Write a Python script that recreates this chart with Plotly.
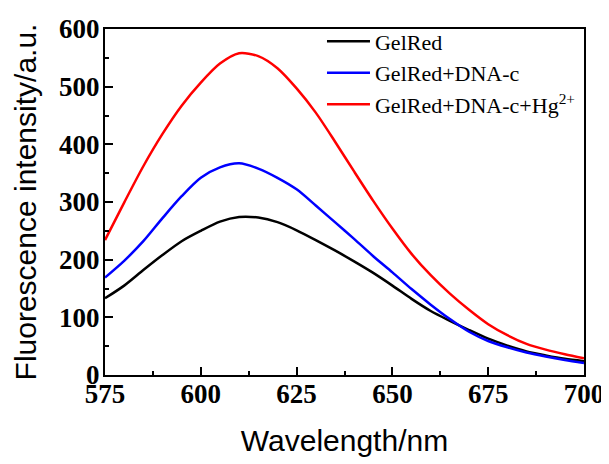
"""
Fluorescence emission spectra of GelRed, GelRed+DNA-c and GelRed+DNA-c+Hg2+.
"""

import plotly.graph_objects as go

# wavelength grid (nm)
wavelength = [575, 580, 585, 590, 595, 600, 605, 610, 615, 620, 625, 630, 635,
              640, 645, 650, 655, 660, 665, 670, 675, 680, 685, 690, 695, 700]

# intensities (a.u.)
gelred = [133, 155, 182, 208, 232, 250, 266, 274, 273, 265, 251, 234, 216,
          197, 177, 155, 132, 111, 94, 78, 63, 51, 41, 34, 28, 24]
gelred_dna = [169, 198, 232, 272, 310, 342, 360, 367, 358, 342, 322, 294, 265,
              236, 206, 178, 149, 122, 97, 75, 59, 48, 39, 32, 26, 21]
gelred_dna_hg = [234, 299, 362, 418, 467, 507, 540, 558, 553, 532, 497, 455, 405,
                 353, 302, 254, 210, 173, 141, 113, 88, 69, 54, 44, 36, 29]

series = [
    ('GelRed', gelred, '#000000'),
    ('GelRed+DNA-c', gelred_dna, '#0000FF'),
    ('GelRed+DNA-c+Hg<sup>2+</sup>', gelred_dna_hg, '#FF0000'),
]

x_ticks = [575, 600, 625, 650, 675, 700]
y_ticks = [0, 100, 200, 300, 400, 500, 600]

fig = go.Figure()

for name, values, color in series:
    fig.add_trace(go.Scatter(
        x=wavelength,
        y=values,
        mode='lines',
        name=name,
        line=dict(color=color, width=2.5, shape='spline', smoothing=0.8),
    ))

tick_font = dict(family='Liberation Serif', size=27, color='black')
title_font = dict(family='Liberation Sans', size=30, color='black')

# page body adds an 8px margin, so the figure is 8px smaller and shifted back
fig.update_layout(
    width=601,
    height=456,
    margin=dict(l=97, r=25, t=13, b=89),
    paper_bgcolor='white',
    plot_bgcolor='white',
    showlegend=True,
    legend=dict(
        x=0.453, y=1.025, xanchor='left', yanchor='top',
        bgcolor='rgba(0,0,0,0)',
        font=dict(family='Liberation Serif', size=22, color='black'),
        itemwidth=43,
        tracegroupgap=0,
    ),
    xaxis=dict(
        range=[575, 700],
        automargin=False,
        tickvals=x_ticks,
        ticktext=[f'<b>{v}</b>' for v in x_ticks],
        tickfont=tick_font,
        ticklabelstandoff=-6,
        ticks='inside', ticklen=8, tickwidth=2, tickcolor='black',
        minor=dict(ticks='inside', ticklen=4, tickwidth=2, tickcolor='black', dtick=12.5, tick0=575),
        showline=True, linewidth=2, linecolor='black', mirror=True,
        showgrid=False, zeroline=False,
        title=dict(text='Wavelength/nm', font=title_font, standoff=22),
    ),
    yaxis=dict(
        range=[0, 600],
        automargin=False,
        tickvals=y_ticks,
        ticktext=[f'<b>{v}</b>' for v in y_ticks],
        tickfont=tick_font,
        ticklabelstandoff=-2,
        ticks='inside', ticklen=8, tickwidth=2, tickcolor='black',
        minor=dict(ticks='inside', ticklen=4, tickwidth=2, tickcolor='black', dtick=50, tick0=0),
        showline=True, linewidth=2, linecolor='black', mirror=True,
        showgrid=False, zeroline=False,
        title=dict(text='Fluorescence intensity/a.u.', font=title_font, standoff=14),
    ),
)

fig.write_html("out.html")
